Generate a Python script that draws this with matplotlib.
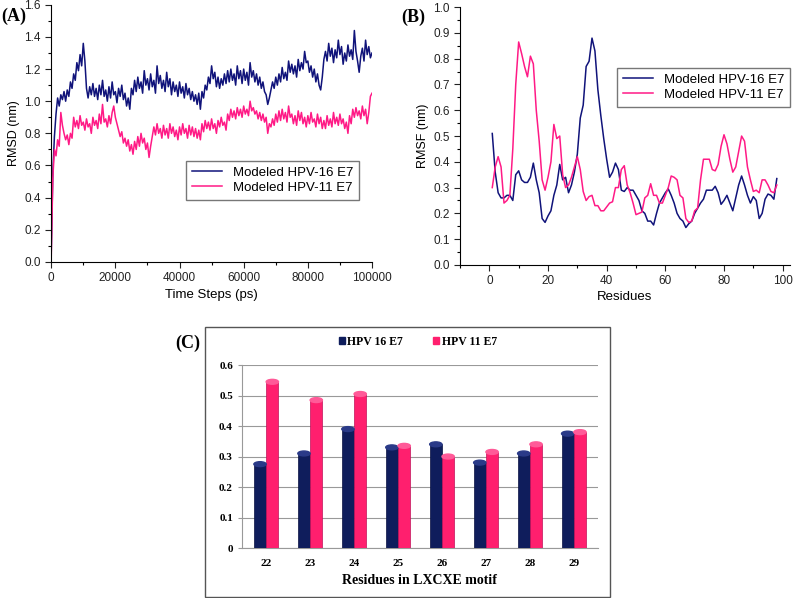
import numpy as np
import matplotlib
matplotlib.use('Agg')
import matplotlib.pyplot as plt
from matplotlib.patches import Patch, Ellipse, Rectangle
from matplotlib.ticker import MultipleLocator

# ---- (A) RMSD, one value every 500 ps ----
time_ps = [500 * i for i in range(201)]
rmsd_hpv16 = [
    0.05, 0.55, 0.78, 0.92, 1.02, 0.97, 1.04, 1.01, 1.06, 1.00,
    1.07, 1.03, 1.12, 1.08, 1.17, 1.13, 1.24, 1.19, 1.29, 1.22,
    1.36, 1.25, 1.08, 1.02, 1.09, 1.04, 1.11, 1.03, 1.08, 1.01,
    1.10, 1.04, 1.13, 1.03, 1.07, 1.00, 1.09, 1.02, 1.12, 1.04,
    1.06, 0.99, 1.08, 1.03, 1.10, 1.01, 1.05, 0.97, 1.02, 0.95,
    1.08, 1.04, 1.13, 1.06, 1.15, 1.08, 1.12, 1.05, 1.19, 1.10,
    1.14, 1.07, 1.17, 1.09, 1.13, 1.05, 1.22, 1.11, 1.16, 1.08,
    1.13, 1.06, 1.18, 1.09, 1.14, 1.04, 1.12, 1.06, 1.10, 1.03,
    1.12, 1.05, 1.09, 1.02, 1.11, 1.04, 1.08, 1.01, 1.06, 1.00,
    1.04, 0.98, 1.05, 0.95, 1.06, 1.02, 1.10, 1.07, 1.15, 1.11,
    1.22, 1.14, 1.18, 1.09, 1.15, 1.08, 1.14, 1.10, 1.17, 1.11,
    1.19, 1.12, 1.20, 1.13, 1.17, 1.10, 1.22, 1.14, 1.19, 1.11,
    1.20, 1.13, 1.18, 1.10, 1.24, 1.15, 1.19, 1.12, 1.17, 1.10,
    1.15, 1.08, 1.12, 1.06, 1.04, 0.98, 1.02, 1.07, 1.12, 1.08,
    1.15, 1.10, 1.17, 1.12, 1.21, 1.14, 1.18, 1.13, 1.25, 1.18,
    1.23, 1.17, 1.22, 1.15, 1.26, 1.19, 1.24, 1.20, 1.31, 1.24,
    1.25, 1.18, 1.22, 1.15, 1.20, 1.12, 1.17, 1.10, 1.07, 1.15,
    1.26, 1.31, 1.25, 1.36, 1.28, 1.33, 1.24, 1.32, 1.27, 1.38,
    1.29, 1.34, 1.23, 1.30, 1.25, 1.35, 1.28, 1.32, 1.26, 1.44,
    1.31, 1.25, 1.18, 1.28, 1.33, 1.25, 1.38, 1.29, 1.34, 1.27,
    1.30]
rmsd_hpv11 = [
    0.02, 0.52, 0.70, 0.66, 0.76, 0.72, 0.93, 0.85, 0.80, 0.76,
    0.79, 0.73, 0.80, 0.77, 0.90, 0.84, 0.88, 0.83, 0.91, 0.85,
    0.87, 0.82, 0.89, 0.84, 0.86, 0.80, 0.90, 0.85, 0.88, 0.83,
    0.92, 0.86, 0.98, 0.87, 0.89, 0.84, 0.91, 0.86, 0.93, 0.97,
    0.90, 0.86, 0.82, 0.78, 0.81, 0.74, 0.77, 0.72, 0.76, 0.69,
    0.73, 0.67, 0.75, 0.70, 0.78, 0.72, 0.80, 0.74, 0.77, 0.70,
    0.74, 0.65, 0.72, 0.78, 0.84, 0.79, 0.86, 0.80, 0.83, 0.77,
    0.85, 0.79, 0.83, 0.77, 0.86, 0.80, 0.84, 0.78, 0.82, 0.76,
    0.84, 0.79, 0.86, 0.80, 0.83, 0.77, 0.85, 0.79, 0.84, 0.78,
    0.83, 0.77, 0.82, 0.76, 0.86, 0.81, 0.88, 0.83, 0.87, 0.82,
    0.89, 0.83, 0.86, 0.80, 0.88, 0.84, 0.90, 0.85, 0.87, 0.82,
    0.92, 0.88, 0.95, 0.90, 0.94, 0.89, 0.96, 0.91, 0.95, 0.90,
    0.97, 0.92, 0.95, 0.91, 1.00, 0.94, 0.96, 0.92, 0.94, 0.89,
    0.93, 0.88, 0.92, 0.87, 0.90, 0.80, 0.86, 0.84, 0.89, 0.85,
    0.92, 0.87, 0.94, 0.88, 0.95, 0.89, 0.93, 0.87, 0.97, 0.90,
    0.92, 0.86, 0.91, 0.85, 0.94, 0.88, 0.93, 0.86, 0.90, 0.84,
    0.91, 0.86, 0.93, 0.87, 0.89, 0.84, 0.92, 0.86, 0.90, 0.83,
    0.88, 0.83, 0.91, 0.85, 0.89, 0.84, 0.93, 0.86, 0.90, 0.85,
    0.92, 0.86, 0.89, 0.83, 0.87, 0.80, 0.91, 0.86, 0.95, 0.90,
    0.96, 0.91, 0.94, 0.89, 0.97, 0.91, 0.95, 0.86, 0.93, 1.03,
    1.05]

# ---- (B) RMSF per residue ----
residues = list(range(1, 99))
rmsf_hpv16 = [
    0.51, 0.36, 0.28, 0.26, 0.26, 0.27, 0.27, 0.25, 0.35, 0.365,
    0.33, 0.32, 0.32, 0.34, 0.395, 0.33, 0.28, 0.18, 0.165, 0.19,
    0.21, 0.27, 0.31, 0.39, 0.33, 0.34, 0.28, 0.31, 0.36, 0.43,
    0.57, 0.62, 0.77, 0.79, 0.88, 0.83, 0.68, 0.58, 0.49, 0.41,
    0.34, 0.36, 0.395, 0.37, 0.29, 0.285, 0.30, 0.29, 0.29, 0.27,
    0.25, 0.21, 0.20, 0.17, 0.17, 0.155, 0.20, 0.24, 0.26, 0.28,
    0.295, 0.27, 0.24, 0.20, 0.18, 0.17, 0.145, 0.16, 0.17, 0.20,
    0.22, 0.24, 0.255, 0.29, 0.29, 0.29, 0.305, 0.28, 0.235, 0.25,
    0.27, 0.24, 0.21, 0.26, 0.31, 0.345, 0.31, 0.27, 0.24, 0.265,
    0.25, 0.18, 0.20, 0.255, 0.275, 0.27, 0.255, 0.335]
rmsf_hpv11 = [
    0.30, 0.38, 0.42, 0.38, 0.24, 0.25, 0.27, 0.45, 0.70, 0.865,
    0.82, 0.77, 0.73, 0.81, 0.78, 0.60, 0.48, 0.33, 0.29, 0.34,
    0.40, 0.545, 0.49, 0.50, 0.35, 0.30, 0.31, 0.34, 0.38, 0.42,
    0.37, 0.285, 0.25, 0.265, 0.27, 0.23, 0.23, 0.21, 0.21, 0.225,
    0.24, 0.245, 0.30, 0.30, 0.37, 0.385, 0.31, 0.28, 0.24, 0.195,
    0.20, 0.205, 0.26, 0.27, 0.315, 0.27, 0.27, 0.24, 0.24, 0.27,
    0.30, 0.345, 0.34, 0.33, 0.27, 0.26, 0.18, 0.165, 0.17, 0.21,
    0.22, 0.33, 0.41, 0.41, 0.41, 0.37, 0.365, 0.39, 0.46, 0.505,
    0.47, 0.41, 0.36, 0.38, 0.44, 0.50, 0.48, 0.38, 0.33, 0.285,
    0.29, 0.28, 0.33, 0.33, 0.31, 0.285, 0.28, 0.31]

# ---- (C) LXCXE motif ----
motif_residues = ['22', '23', '24', '25', '26', '27', '28', '29']
motif_hpv16 = [0.275, 0.31, 0.39, 0.33, 0.34, 0.28, 0.31, 0.375]
motif_hpv11 = [0.545, 0.485, 0.505, 0.335, 0.30, 0.315, 0.34, 0.38]

navy = '#10137a'
pink = '#ff1a86'
bar_blue = '#0f1d5c'
bar_pink = '#ff1f6e'

plt.rcParams['font.family'] = ['Liberation Sans', 'DejaVu Sans']
fig = plt.figure(figsize=(8.0, 5.98), dpi=100)


def estilo(ax):
    ax.spines['top'].set_visible(False)
    ax.spines['right'].set_visible(False)
    ax.tick_params(labelsize=8.5, length=4, width=0.8, colors='#222222')
    ax.tick_params(which='minor', length=2.5, width=0.8)


leyenda = dict(loc='upper right', fontsize=9.5, fancybox=False, edgecolor='#777777',
               framealpha=1, handlelength=2.3, borderpad=0.45, labelspacing=0.2)

# (A)
ax1 = fig.add_axes([0.064, 0.562, 0.401, 0.430])
ax1.plot(time_ps, rmsd_hpv16, color=navy, lw=1.1, label='Modeled HPV-16 E7')
ax1.plot(time_ps, rmsd_hpv11, color=pink, lw=1.1, label='Modeled HPV-11 E7')
ax1.set_xlim(0, 100000)
ax1.set_ylim(0, 1.6)
ax1.xaxis.set_major_locator(MultipleLocator(20000))
ax1.xaxis.set_minor_locator(MultipleLocator(10000))
ax1.yaxis.set_major_locator(MultipleLocator(0.2))
ax1.yaxis.set_minor_locator(MultipleLocator(0.1))
ax1.set_xlabel('Time Steps (ps)', fontsize=9.5, labelpad=3)
ax1.set_ylabel('RMSD (nm)', fontsize=9, labelpad=3)
estilo(ax1)
ax1.legend(bbox_to_anchor=(0.98, 0.42), **leyenda)
fig.text(0.002, 0.965, '(A)', fontsize=13, fontweight='bold', family='Liberation Serif')

# (B)
ax2 = fig.add_axes([0.575, 0.557, 0.4125, 0.431])
ax2.plot(residues, rmsf_hpv16, color=navy, lw=1.1, label='Modeled HPV-16 E7')
ax2.plot(residues, rmsf_hpv11, color=pink, lw=1.1, label='Modeled HPV-11 E7')
ax2.set_xlim(-10, 102.5)
ax2.set_ylim(0, 1.0)
ax2.xaxis.set_major_locator(MultipleLocator(20))
ax2.xaxis.set_minor_locator(MultipleLocator(10))
ax2.yaxis.set_major_locator(MultipleLocator(0.1))
ax2.yaxis.set_minor_locator(MultipleLocator(0.05))
ax2.set_xlabel('Residues', fontsize=9.5, labelpad=3)
ax2.set_ylabel('RMSF (nm)', fontsize=9, labelpad=3)
estilo(ax2)
ax2.legend(bbox_to_anchor=(1.02, 0.79), **leyenda)
fig.text(0.502, 0.963, '(B)', fontsize=13, fontweight='bold', family='Liberation Serif')

# (C) marco del grafico de barras
fig.patches.append(Rectangle((205 / 800, 1 - 597 / 598), 405 / 800, 270 / 598,
                             transform=fig.transFigure, fill=False,
                             edgecolor='#555555', lw=1.0))
fig.text(0.250, 1 - 343 / 598, '(C)', fontsize=13, fontweight='bold',
         family='Liberation Serif', ha='right', va='center')

ax3 = fig.add_axes([0.3025, 0.0836, 0.445, 0.306])
x = np.arange(len(motif_residues))
w = 0.28
ax3.bar(x - w / 2, motif_hpv16, w, color=bar_blue, edgecolor='#081040', lw=0.5, zorder=3)
ax3.bar(x + w / 2, motif_hpv11, w, color=bar_pink, edgecolor='#c0105a', lw=0.5, zorder=3)
# tapas de los cilindros
for xi, v in zip(x - w / 2, motif_hpv16):
    ax3.add_patch(Ellipse((xi, v), w, 0.016, color='#2a3a88', zorder=4))
for xi, v in zip(x + w / 2, motif_hpv11):
    ax3.add_patch(Ellipse((xi, v), w, 0.016, color='#ff5a98', zorder=4))
ax3.set_xlim(-0.55, len(motif_residues) - 0.45)
ax3.set_ylim(0, 0.6)
ax3.set_yticks(np.arange(0, 0.61, 0.1))
ax3.set_yticklabels(['0', '0.1', '0.2', '0.3', '0.4', '0.5', '0.6'])
ax3.set_xticks(x)
ax3.set_xticklabels(motif_residues)
ax3.grid(axis='y', color='#999999', lw=0.8, zorder=0)
for s in ['top', 'right']:
    ax3.spines[s].set_visible(False)
ax3.spines['left'].set_color('#999999')
ax3.spines['bottom'].set_color('#999999')
ax3.tick_params(axis='x', length=0, pad=8)
ax3.tick_params(axis='y', length=3, color='#999999')
for lbl in ax3.get_xticklabels() + ax3.get_yticklabels():
    lbl.set_fontfamily('Liberation Serif')
    lbl.set_fontweight('bold')
    lbl.set_fontsize(8)
ax3.set_xlabel('Residues in LXCXE motif', fontsize=10, fontweight='bold',
               family='Liberation Serif', labelpad=4)
handles = [Patch(color=bar_blue, label='HPV 16 E7'), Patch(color=bar_pink, label='HPV 11 E7')]
fig.legend(handles=handles, loc='center', bbox_to_anchor=(0.522, 1 - 342 / 598), ncol=2,
           frameon=False, handlelength=0.55, handleheight=0.55, handletextpad=0.2,
           columnspacing=2.5, prop={'family': 'Liberation Serif', 'weight': 'bold', 'size': 8.5})

fig.savefig('out.png', dpi=100)
